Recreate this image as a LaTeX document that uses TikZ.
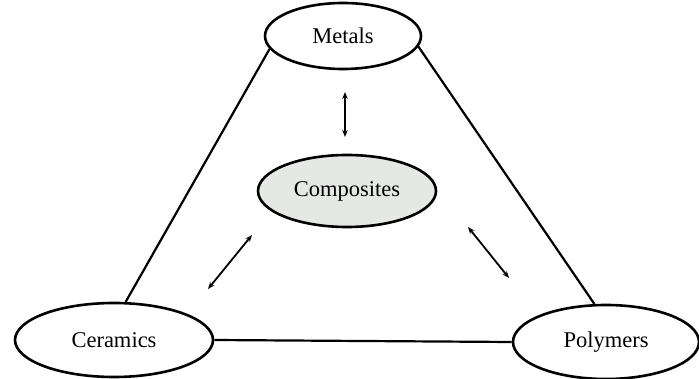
\documentclass[tikz,border=0pt]{standalone}
\usepackage{fontspec}
\setmainfont{Liberation Serif}
\usetikzlibrary{shapes.geometric,arrows.meta}
\begin{document}
\begin{tikzpicture}[x=1pt,y=-1pt,
  ell/.style={ellipse,draw,line width=2.6pt,fill=white,inner sep=0pt,
    font=\fontsize{22.5}{26}\selectfont},
  conn/.style={line width=2.2pt},
  dbl/.style={line width=1.8pt,{Stealth[length=7pt,width=5.5pt]}-{Stealth[length=7pt,width=5.5pt]}}]
\useasboundingbox (0,0) rectangle (699,379);
\node[ell,minimum width=156pt,minimum height=66pt] (metals) at (343,36) {Metals};
\node[ell,minimum width=178pt,minimum height=72pt,fill={rgb,1:red,0.90;green,0.91;blue,0.90}] (comp) at (347,191) {Composites};
\node[ell,minimum width=198pt,minimum height=74pt] (cer) at (114,340) {Ceramics};
\node[ell,minimum width=186pt,minimum height=74pt] (pol) at (606,342) {Polymers};
\draw[conn] (metals.190) -- (cer.73);
\draw[conn] (metals.352) -- (pol.107);
\draw[conn] (cer.east) -- (pol.west);
\coordinate (a1) at (345,92);
\coordinate (a2) at (345,137);
\coordinate (b1) at (252,235);
\coordinate (b2) at (208,289);
\coordinate (c1) at (468,227);
\coordinate (c2) at (509,278);
\draw[dbl] (a1) -- (a2);
\draw[dbl] (b1) -- (b2);
\draw[dbl] (c1) -- (c2);
\end{tikzpicture}
\end{document}
